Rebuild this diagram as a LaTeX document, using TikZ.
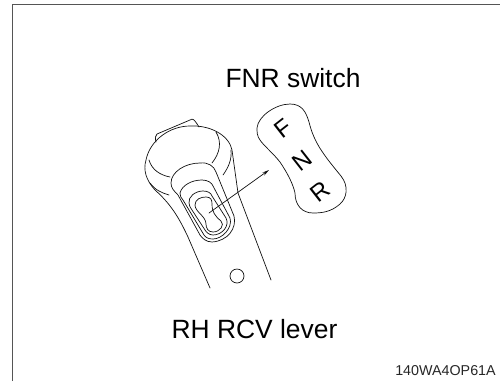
\documentclass[tikz,border=0pt]{standalone}
\usepackage{fontspec}
\setmainfont{Liberation Sans}
\usetikzlibrary{arrows.meta}
\definecolor{mFrame}{HTML}{555555}
\definecolor{mInk}{HTML}{111111}

\begin{document}
\begin{tikzpicture}[x=1pt, y=-1pt,
      ln/.style={draw=mInk, line width=0.7pt, line cap=round, line join=round},
      lab/.style={font=\fontsize{26.4}{26.4}\selectfont, text=black, inner sep=0pt, anchor=base},
      sym/.style={font=\fontsize{24}{24}\selectfont, text=black, inner sep=0pt, rotate=38}]
    \useasboundingbox (0,0) rectangle (500,381);
    % frame
    \draw[mFrame, line width=1.5pt] (12.5,381) -- (12.5,4.5) -- (500,4.5);
    % labels
    \node[lab] (switchlab) at (293,87) {FNR switch};
    \node[lab] (leverlab) at (254.5,338) {RH RCV lever};
    \node[anchor=base, inner sep=0pt, font=\fontsize{14.3}{14.3}\selectfont, text=black!85] (partno) at (445.5,375) {140WA4OP61A};
    % lever head
    \draw[ln] (156,142) .. controls (155,138) and (155,136) .. (157,134)
      -- (190,120) .. controls (193,118) and (194,119) .. (199,127);
    \draw[ln] (210,288) -- (188,237) .. controls (180,220) and (172,205) .. (155,190)
      .. controls (146,180) and (143,170) .. (146,160)
      .. controls (150,140) and (170,126) .. (190,126)
      .. controls (210,125) and (229,135) .. (232,150)
      -- (238,193) -- (271,280);
    % creases
    \draw[ln] (149,160) .. controls (152,170) and (160,175) .. (170,177);
    \draw[ln] (150,183) .. controls (155,190) and (162,193) .. (169,195);
    \draw[ln] (216,132) .. controls (222,142) and (220,153) .. (212,163);
    \draw[ln] (231,150) .. controls (232,160) and (228,168) .. (223,175);
    % grip outlines
    \draw[ln] (171,183) .. controls (171,172) and (185,163) .. (200,163)
      .. controls (208,162) and (214,166) .. (216,172)
      -- (234,216) .. controls (237,228) and (228,241) .. (212,242)
      .. controls (206,242) and (202,238) .. (200,235) -- (178,195)
      .. controls (174,191) and (171,188) .. (171,183);
    \draw[ln] (180,193) .. controls (182,185) and (192,180) .. (202,180)
      .. controls (208,180) and (212,183) .. (213,186)
      -- (230,218) .. controls (233,228) and (222,239) .. (213,239)
      .. controls (209,239) and (206,238) .. (204,235) -- (183,200)
      .. controls (181,198) and (180,196) .. (180,193);
    \draw[ln] (189,203) .. controls (188,197) and (195,191) .. (203,191)
      .. controls (208,191) and (211,193) .. (212,196)
      -- (226,218) .. controls (230,226) and (222,235) .. (213,235)
      .. controls (209,235) and (206,232) .. (205,230)
      -- (192,210) .. controls (190,207) and (189,205) .. (189,203);
    \draw[ln] (195,205) .. controls (195,199) and (201,197) .. (206,197)
      .. controls (211,197) and (212,200) .. (212,204)
      .. controls (212,212) and (215,216) .. (221,221)
      .. controls (225,225) and (220,232) .. (213,232)
      .. controls (208,232) and (206,228) .. (206,224)
      .. controls (206,216) and (195,212) .. (195,205);
    % pin hole
    \node[ln, circle, minimum size=14pt, inner sep=0pt] (pinhole) at (237,276) {};
    % switch plate
    \draw[ln] (257,128) .. controls (258,116) and (276,104) .. (290,104)
      .. controls (302,104) and (306,112) .. (309,122)
      .. controls (314,142) and (322,153) .. (341,176)
      .. controls (349,186) and (347,198) .. (340,204)
      .. controls (331,212) and (322,213) .. (313,213)
      .. controls (302,213) and (295,205) .. (295,193)
      .. controls (293,184) and (288,174) .. (280,162)
      .. controls (272,152) and (264,146) .. (260,140)
      .. controls (257,136) and (257,132) .. (257,128);
    % letters
    \node[sym] (letterf) at (283,128) {F};
    \node[sym] (lettern) at (302,161) {N};
    \node[sym] (letterr) at (320,192) {R};
    % arrow to the plate
    \coordinate (armstart) at (209,213);
    \coordinate (armend) at (269,170);
    \draw[ln, -{Stealth[length=7pt, width=3.5pt]}] (armstart) -- (armend);
\end{tikzpicture}
\end{document}
